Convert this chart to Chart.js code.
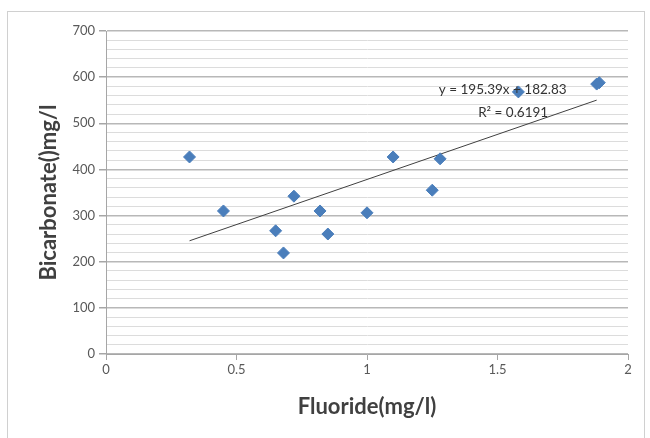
<!DOCTYPE html>
<html>
<head>
<meta charset="utf-8">
<script src="https://cdn.jsdelivr.net/npm/chart.js@4"></script>
<style>
  html, body { margin: 0; padding: 0; background: #fff; }
  #wrap { position: relative; width: 650px; height: 438px; }
  #frame { position: absolute; left: 7px; top: 11px; width: 636px; height: 440px; border: 1px solid #d0d0d0; }
  canvas { position: absolute; left: 0; top: 0; }
</style>
</head>
<body>
<div id="wrap">
  <div id="frame"></div>
  <canvas id="scatter_chart" width="650" height="438"></canvas>
</div>
<script>
const fluoride = [0.32, 0.45, 0.65, 0.68, 0.72, 0.82, 0.85, 1.0, 1.1, 1.25, 1.28, 1.58, 1.88, 1.89];
const bicarbonate = [427, 310, 267, 219, 342, 310, 260, 306, 427, 355, 423, 568, 585, 588];

// excel linear trendline as printed on the chart
const slope = 195.39;
const intercept = 182.83;
const trend_x = [0.32, 1.88];
const equation_text = "y = 195.39x + 182.83";
const r2_text = "R\u00b2 = 0.6191";

const font_name = "Lato, 'Open Sans', sans-serif";

let points = [];
fluoride.forEach((f, i) => {
  points.push({ x: f, y: bicarbonate[i] });
});

let trend_points = trend_x.map(x => ({ x: x, y: slope * x + intercept }));

const label_plugin = {
  id: "trend_label",
  afterDatasetsDraw(chart) {
    const ctx = chart.ctx;
    const xs = chart.scales.x;
    const ys = chart.scales.y;
    ctx.save();
    ctx.fillStyle = "#333333";
    ctx.font = "13.5px " + font_name;
    ctx.textAlign = "center";
    ctx.textBaseline = "middle";
    ctx.fillText(equation_text, xs.getPixelForValue(1.52), ys.getPixelForValue(572));
    ctx.fillText(r2_text, xs.getPixelForValue(1.56), ys.getPixelForValue(524));
    ctx.restore();
  }
};

const scatter_ctx = document.getElementById("scatter_chart");

const scatter_chart = new Chart(scatter_ctx, {
  type: "scatter",
  data: {
    datasets: [
      {
        label: "Bicarbonate",
        data: points,
        pointStyle: "rectRot",
        pointRadius: 6,
        backgroundColor: "#4a7ebb",
        borderColor: "#4a7ebb",
        order: 1
      },
      {
        label: "Linear",
        type: "line",
        data: trend_points,
        borderColor: "#404040",
        borderWidth: 1,
        pointRadius: 0,
        fill: false,
        order: 2
      }
    ]
  },
  plugins: [label_plugin],
  options: {
    responsive: false,
    animation: false,
    layout: { padding: { left: 32, top: 31, right: 22, bottom: 14 } },
    plugins: {
      legend: { display: false },
      tooltip: { enabled: false }
    },
    scales: {
      x: {
        type: "linear",
        min: 0,
        max: 2,
        ticks: {
          stepSize: 0.5,
          color: "#595959",
          font: { family: font_name, size: 13 },
          padding: 2,
          callback: v => String(v)
        },
        grid: {
          drawOnChartArea: false,
          drawTicks: true,
          tickLength: 6,
          color: "#a6a6a6"
        },
        border: { color: "#a6a6a6" },
        title: {
          display: true,
          text: "Fluoride(mg/l)",
          color: "#404040",
          font: { family: font_name, size: 22, weight: "bold" },
          padding: { top: 8 }
        },
        afterFit: s => { s.height = 70; }
      },
      y: {
        min: 0,
        max: 700,
        ticks: {
          stepSize: 20,
          autoSkip: false,
          color: "#595959",
          font: { family: font_name, size: 13 },
          padding: 4,
          callback: v => (v % 100 === 0 ? String(v) : "")
        },
        grid: {
          color: c => (c.tick && c.tick.value % 100 === 0 ? "#b8b8b8" : "#dcdcdc"),
          tickColor: c => (c.tick && c.tick.value % 100 === 0 ? "#a6a6a6" : "rgba(0,0,0,0)"),
          lineWidth: c => (c.tick && c.tick.value % 100 === 0 ? 1.5 : 1),
          tickLength: 7
        },
        border: { color: "#a6a6a6" },
        title: {
          display: true,
          text: "Bicarbonate()mg/l",
          color: "#404040",
          font: { family: font_name, size: 22, weight: "bold" },
          padding: { bottom: 6 }
        },
        afterFit: s => { s.width = 74; }
      }
    }
  }
});
</script>
</body>
</html>
